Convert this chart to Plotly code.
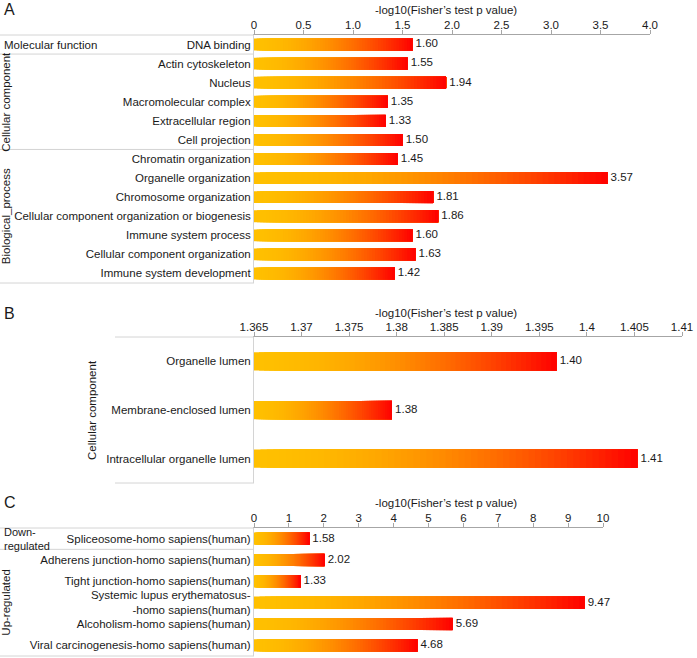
import plotly.graph_objects as go

W, H = 697, 658

# ---------------- data ----------------
a_terms = ["DNA binding", "Actin cytoskeleton", "Nucleus", "Macromolecular complex",
           "Extracellular region", "Cell projection", "Chromatin organization",
           "Organelle organization", "Chromosome organization",
           "Cellular component organization or biogenesis", "Immune system process",
           "Cellular component organization", "Immune system development"]
a_values = [1.60, 1.55, 1.94, 1.35, 1.33, 1.50, 1.45, 3.57, 1.81, 1.86, 1.60, 1.63, 1.42]
a_groups = ["Molecular function", "Cellular component", "Biological_process"]
a_group_sizes = [1, 5, 7]
a_tickvals = [0, 0.5, 1.0, 1.5, 2.0, 2.5, 3.0, 3.5, 4.0]
a_ticktext = ["0", "0.5", "1.0", "1.5", "2.0", "2.5", "3.0", "3.5", "4.0"]

b_terms = ["Organelle lumen", "Membrane-enclosed lumen", "Intracellular organelle lumen"]
b_values = [1.3968, 1.3795, 1.4053]
b_groups = ["Cellular component"]
b_group_sizes = [3]
b_tickvals = [1.365, 1.37, 1.375, 1.38, 1.385, 1.39, 1.395, 1.40, 1.405, 1.41]
b_ticktext = ["1.365", "1.37", "1.375", "1.38", "1.385", "1.39", "1.395", "1.4", "1.405", "1.41"]

c_terms = ["Spliceosome-homo sapiens(human)", "Adherens junction-homo sapiens(human)",
           "Tight junction-homo sapiens(human)",
           "Systemic lupus erythematosus-<br>-homo sapiens(human)",
           "Alcoholism-homo sapiens(human)", "Viral carcinogenesis-homo sapiens(human)"]
c_values = [1.58, 2.02, 1.33, 9.47, 5.69, 4.68]
c_groups = ["Down-regulated", "Up-regulated"]
c_group_sizes = [1, 5]
c_tickvals = [0, 1, 2, 3, 4, 5, 6, 7, 8, 9, 10]
c_ticktext = ["0", "1", "2", "3", "4", "5", "6", "7", "8", "9", "10"]

axis_title = "-log10(Fisher\u2019s test p value)"
panel_letters = ["A", "B", "C"]

# ---------------- styling / geometry ----------------
FONT = "Arial, Liberation Sans, sans-serif"
TXT = "#1a1a1a"
AXC = "#a6a6a6"
TBL = "#d4d4d4"
FS = 11.5
X0 = 254  # left edge of plot area (px)

panels = [
    dict(terms=a_terms, values=a_values, groups=a_groups, sizes=a_group_sizes,
         tv=a_tickvals, tt=a_ticktext, top=35, bottom=283, x1=650,
         tleft=0, bw=0.62, ly=10, rotx=6),
    dict(terms=b_terms, values=b_values, groups=b_groups, sizes=b_group_sizes,
         tv=b_tickvals, tt=b_ticktext, top=337, bottom=483, x1=682,
         tleft=115, bw=0.375, ly=313, rotx=92),
    dict(terms=c_terms, values=c_values, groups=c_groups, sizes=c_group_sizes,
         tv=c_tickvals, tt=c_ticktext, top=528, bottom=656, x1=603,
         tleft=0, bw=0.57, ly=503, rotx=6),
]


def grad(t):
    g = 192 * (1 - t ** 1.8)
    return f"rgb(255,{int(round(g))},0)"


N = 60
fig = go.Figure()
shapes = []
annotations = []
layout = {}

for i, p in enumerate(panels):
    sfx = "" if i == 0 else str(i + 1)
    xa, ya = "x" + sfx, "y" + sfx
    start = p["tv"][0]
    end = p["tv"][-1]

    ys, xs, bases, cols = [], [], [], []
    for term, v in zip(p["terms"], p["values"]):
        for k in range(N):
            b = start + (v - start) * k / N
            ys.append(term)
            bases.append(b)
            xs.append(v - b)
            cols.append(grad((k + 0.5) / N))
    fig.add_trace(go.Bar(x=xs, y=ys, base=bases, orientation="h", width=p["bw"],
                         marker=dict(color=cols, line=dict(width=0)),
                         xaxis=xa, yaxis=ya, showlegend=False, hoverinfo="skip"))
    fig.add_trace(go.Scatter(x=p["values"], y=p["terms"], mode="text",
                             text=[f" {v:.2f}" for v in p["values"]],
                             textposition="middle right",
                             textfont=dict(size=FS, color=TXT, family=FONT),
                             cliponaxis=False, xaxis=xa, yaxis=ya, showlegend=False,
                             hoverinfo="skip"))

    n = len(p["terms"])
    ydom = [1 - p["bottom"] / H, 1 - p["top"] / H]
    layout["xaxis" + sfx] = dict(
        domain=[X0 / W, p["x1"] / W], range=[start, end], side="top", anchor=ya,
        tickvals=p["tv"], ticktext=p["tt"], ticks="outside", ticklen=4,
        ticklabelstandoff=-4,
        tickcolor=AXC, showline=True, linecolor=AXC, linewidth=1,
        showgrid=False, zeroline=False, fixedrange=True, automargin=False,
        tickfont=dict(size=FS, color=TXT, family=FONT))
    layout["yaxis" + sfx] = dict(
        domain=ydom, type="category", categoryarray=p["terms"],
        range=[n - 0.5, -0.5], anchor=xa, showline=True, linecolor=TBL,
        ticks="", ticklabelstandoff=0, showgrid=False, zeroline=False,
        fixedrange=True, automargin=False,
        tickfont=dict(size=FS, color=TXT, family=FONT))

    yref = ya + " domain"
    # table lines
    cums = [0]
    for s in p["sizes"]:
        cums.append(cums[-1] + s)
    for c in cums:
        shapes.append(dict(type="line", xref="paper", yref=yref,
                           x0=p["tleft"] / W, x1=X0 / W, y0=1 - c / n, y1=1 - c / n,
                           line=dict(color=TBL, width=1)))
    # group labels
    for g, s, c in zip(p["groups"], p["sizes"], cums[:-1]):
        yc = 1 - (c + s / 2) / n
        if s == 1:
            parts = g.split("-", 1)
            label = parts[0] + "-<br>" + parts[1] if len(parts) == 2 else g
            annotations.append(dict(text=label, xref="paper", yref=yref,
                                    x=3 / W, y=yc, xanchor="left", yanchor="middle",
                                    align="left", showarrow=False, borderpad=0,
                                    font=dict(size=11 if len(parts) == 2 else FS,
                                              color=TXT, family=FONT)))
        else:
            annotations.append(dict(text=g, xref="paper", yref=yref, textangle=-90,
                                    x=p["rotx"] / W, y=yc, xanchor="center",
                                    yanchor="middle", showarrow=False,
                                    font=dict(size=FS, color=TXT, family=FONT)))
    # axis title
    annotations.append(dict(text=axis_title, xref="paper", yref="paper",
                            x=446 / W, y=1 - p["ly"] / H, xanchor="center",
                            yanchor="middle", showarrow=False, borderpad=0,
                            font=dict(size=FS, color=TXT, family=FONT)))
    # panel letter
    annotations.append(dict(text=panel_letters[i], xref="paper", yref="paper",
                            x=2 / W, y=1 - p["ly"] / H, xanchor="left",
                            yanchor="middle", showarrow=False,
                            font=dict(size=16, color=TXT, family=FONT)))

fig.update_layout(
    width=W, height=H, margin=dict(l=0, r=0, t=0, b=0, autoexpand=False),
    paper_bgcolor="white", plot_bgcolor="white", barmode="overlay",
    shapes=shapes, annotations=annotations, showlegend=False,
    font=dict(family=FONT, color=TXT), **layout)

fig.write_html("out.html", config={"displayModeBar": False},
               post_script="document.body.style.margin='0';document.body.style.padding='0';")
